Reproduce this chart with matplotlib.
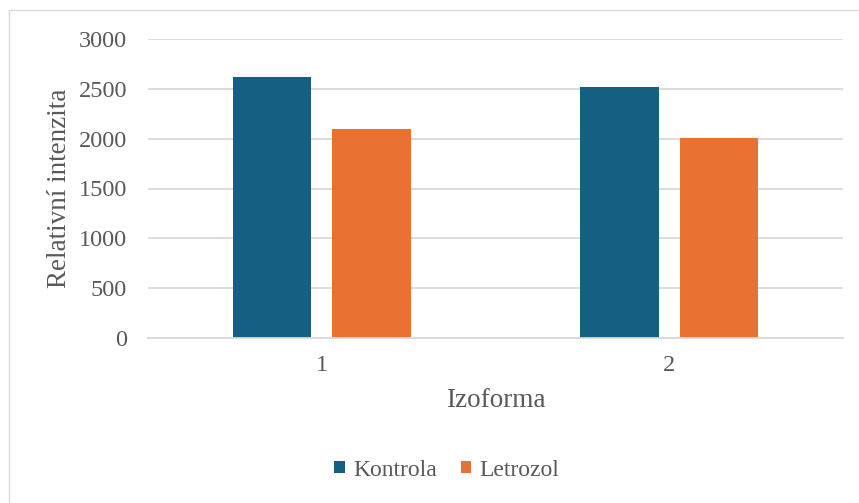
import matplotlib
matplotlib.use("Agg")
import matplotlib.pyplot as plt
from matplotlib.patches import Rectangle
import numpy as np

categories = ["1", "2"]
series_names = ["Kontrola", "Letrozol"]
kontrola = [2620, 2520]
letrozol = [2100, 2010]
y_ticks = [0, 500, 1000, 1500, 2000, 2500, 3000]

colors = ["#156082", "#E97132"]
text_color = "#595959"
grid_color = "#D9D9D9"

plt.rcParams["font.family"] = ["Liberation Serif", "DejaVu Serif"]

W, H = 859, 503
fig = plt.figure(figsize=(W / 100, H / 100), dpi=100)

# chart frame (only left and top edges fall inside the canvas)
fig.patches.append(Rectangle((8.5 / W, -0.5), 2, 1.5 - 9.5 / H, transform=fig.transFigure,
                             fill=False, edgecolor="#D9D9D9", linewidth=1.0))

ax = fig.add_axes([148 / W, (H - 338) / H, (843 - 148) / W, (338 - 39) / H])

x = np.arange(len(categories))
bw = 0.225
off = 0.143
ax.bar(x - off, kontrola, width=bw, color=colors[0], label=series_names[0], zorder=3)
ax.bar(x + off, letrozol, width=bw, color=colors[1], label=series_names[1], zorder=3)

ax.set_xlim(-0.5, len(categories) - 0.5)
ax.set_ylim(0, 3000)
ax.set_yticks(y_ticks)
ax.set_yticklabels([str(v) for v in y_ticks])
ax.set_xticks(x)
ax.set_xticklabels(categories)

ax.yaxis.grid(True, color=grid_color, linewidth=1.3, zorder=0)
for s in ["top", "right", "left"]:
    ax.spines[s].set_visible(False)
ax.spines["bottom"].set_color(grid_color)
ax.spines["bottom"].set_linewidth(1.3)
ax.spines["bottom"].set_zorder(4)
ax.tick_params(axis="both", length=0, labelsize=17.5, labelcolor=text_color)
ax.tick_params(axis="y", pad=15)
ax.tick_params(axis="x", pad=12)

ax.set_ylabel("Relativní intenzita", fontsize=19.5, color=text_color, labelpad=5)
ax.set_xlabel("Izoforma", fontsize=19.5, color=text_color, labelpad=9)

leg = fig.legend(loc="center", bbox_to_anchor=(447 / W, 1 - 470 / H), ncol=2,
                 frameon=False, fontsize=17, handlelength=0.45, handleheight=0.45,
                 handletextpad=0.35, columnspacing=1.0)
for t in leg.get_texts():
    t.set_color(text_color)

fig.savefig("out.png", dpi=100)
